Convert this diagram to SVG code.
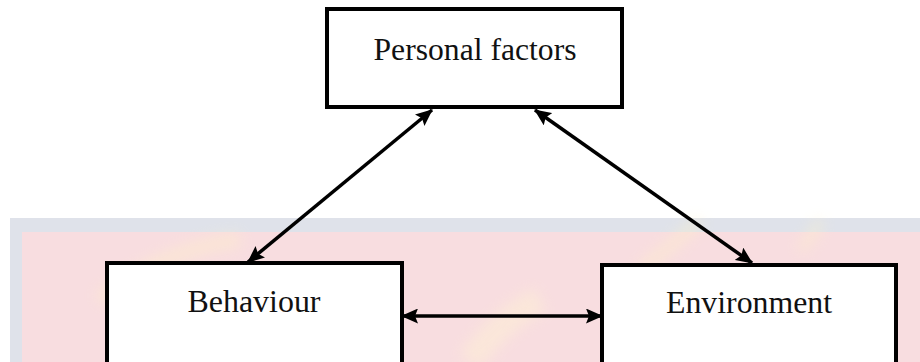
<svg xmlns="http://www.w3.org/2000/svg" width="920" height="362" viewBox="0 0 920 362">
  <style>
    .box { fill: #ffffff; stroke: #000000; stroke-width: 4; }
    .lbl { font-family: "Liberation Serif", "Times New Roman", Times, serif; font-size: 31px; fill: #111111; text-anchor: middle; }
    .conn { stroke: #000000; stroke-width: 3.5; fill: none; marker-start: url(#ah); marker-end: url(#ah); }
  </style>
  <defs>
    <marker id="ah" viewBox="0 0 17 15" refX="16" refY="7.5" markerWidth="17" markerHeight="15" markerUnits="userSpaceOnUse" orient="auto-start-reverse">
      <path d="M0,0 L17,7.5 L0,15 L3,7.5 Z" fill="#000000"/>
    </marker>
    <filter id="blur" x="-20%" y="-20%" width="140%" height="140%">
      <feGaussianBlur stdDeviation="7"/>
    </filter>
  </defs>
  <rect x="0" y="0" width="920" height="362" fill="#ffffff"/>
  <g id="watermark">
    <rect x="10" y="218" width="910" height="144" fill="#dfe2ea"/>
    <rect x="22" y="232" width="898" height="130" fill="#f8dde0"/>
    <g filter="url(#blur)" opacity="0.4">
      <path d="M100,300 Q160,250 240,240" stroke="#fff3c4" stroke-width="14" fill="none"/>
      <path d="M300,362 Q330,320 380,300" stroke="#fff3c4" stroke-width="18" fill="none"/>
      <path d="M470,362 Q500,320 540,300" stroke="#fff6d0" stroke-width="26" fill="none"/>
      <path d="M640,270 Q680,240 700,220" stroke="#fff3c4" stroke-width="12" fill="none"/>
      <path d="M800,250 Q815,235 820,220" stroke="#fff3c4" stroke-width="10" fill="none"/>
    </g>
  </g>
  <g id="connectors">
    <line class="conn" x1="432" y1="110" x2="248" y2="262"/>
    <line class="conn" x1="535" y1="110" x2="752" y2="263"/>
    <line class="conn" x1="402" y1="316" x2="602" y2="316"/>
  </g>
  <g id="personal">
    <rect class="box" x="327" y="9" width="295" height="98"/>
    <text class="lbl" x="475" y="60" textLength="203" lengthAdjust="spacingAndGlyphs">Personal factors</text>
  </g>
  <g id="behaviour">
    <rect class="box" x="107" y="263" width="295" height="110"/>
    <text class="lbl" x="254" y="312" textLength="133" lengthAdjust="spacingAndGlyphs">Behaviour</text>
  </g>
  <g id="environment">
    <rect class="box" x="602" y="265" width="294" height="110"/>
    <text class="lbl" x="749" y="313" textLength="166" lengthAdjust="spacingAndGlyphs">Environment</text>
  </g>
</svg>
